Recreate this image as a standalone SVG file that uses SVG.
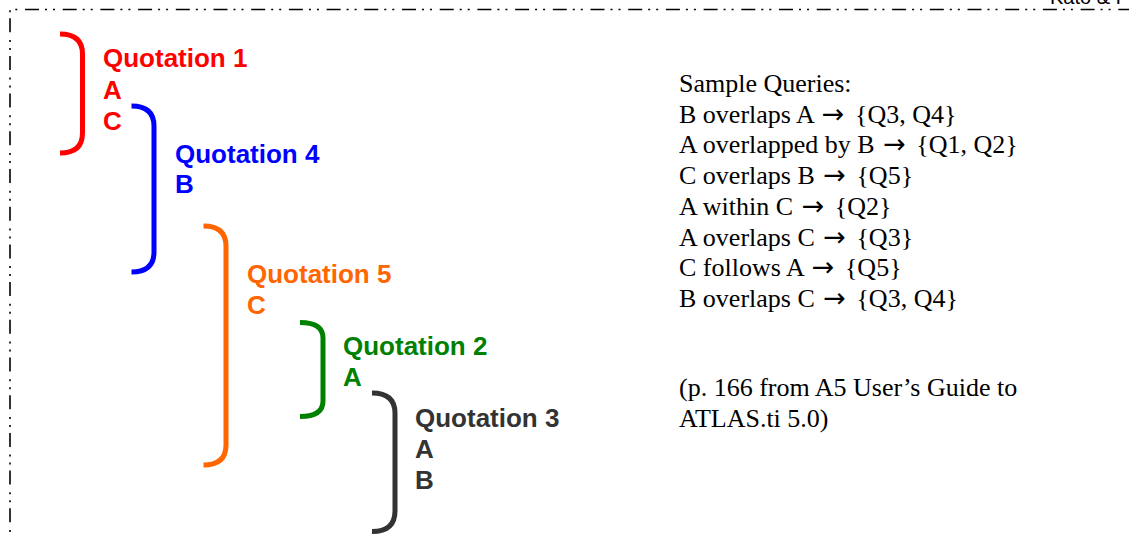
<svg xmlns="http://www.w3.org/2000/svg" width="1129" height="537" viewBox="0 0 1129 537">
  <style>
    .frame { fill: none; stroke: #000; stroke-width: 1.6; stroke-dasharray: 14 6 2 6 2 7.7; }
    .brace { fill: none; stroke-width: 5; stroke-linecap: butt; }
    .qlabel { font-family: "Liberation Sans", Arial, sans-serif; font-weight: bold; font-size: 26px; }
    .notes { font-family: "Liberation Serif", "Times New Roman", serif; font-size: 26px; fill: #000; }
    .arr { font-family: "DejaVu Sans", sans-serif; font-size: 27px; }
    .corner { font-family: "Liberation Sans", Arial, sans-serif; font-size: 20px; fill: #000; }
  </style>

  <rect width="1129" height="537" fill="#fff"/>

  <!-- dash-dot-dot page frame -->
  <path class="frame" d="M10,560 V9.5 H1140"/>
  <text class="corner" x="1050" y="4">Kato &amp; I</text>

  <!-- quotation brackets -->
  <g id="connectors">
    <path class="brace" stroke="#FF0000" d="M60,34 Q82.5,34 82.5,54 V133 Q82.5,153 60,153"/>
    <path class="brace" stroke="#0000FF" d="M131.5,106 Q154,106 154,126 V252 Q154,272 131.5,272"/>
    <path class="brace" stroke="#FF6600" d="M203.5,226 Q226,226 226,246 V445 Q226,465 203.5,465"/>
    <path class="brace" stroke="#008000" d="M300,322.5 Q323,322.5 323,338 V401 Q323,416.5 300,416.5"/>
    <path class="brace" stroke="#333333" d="M372,393 Q395,393 395,413 V511 Q395,531.5 372,531.5"/>
  </g>

  <g id="quotation-1" class="qlabel" fill="#FF0000">
    <text x="103" y="67">Quotation 1</text>
    <text x="103" y="99">A</text>
    <text x="103" y="130">C</text>
  </g>
  <g id="quotation-4" class="qlabel" fill="#0000FF">
    <text x="175" y="163">Quotation 4</text>
    <text x="175" y="193">B</text>
  </g>
  <g id="quotation-5" class="qlabel" fill="#FF6600">
    <text x="247" y="283">Quotation 5</text>
    <text x="247" y="314">C</text>
  </g>
  <g id="quotation-2" class="qlabel" fill="#008000">
    <text x="343" y="355">Quotation 2</text>
    <text x="343" y="386">A</text>
  </g>
  <g id="quotation-3" class="qlabel" fill="#333333">
    <text x="415" y="427">Quotation 3</text>
    <text x="415" y="458">A</text>
    <text x="415" y="489">B</text>
  </g>

  <g id="sample-queries" class="notes">
    <text x="679" y="92">Sample Queries:</text>
    <text x="679" y="122.7">B overlaps A <tspan class="arr" dx="2">→</tspan><tspan dx="4"> {Q3, Q4}</tspan></text>
    <text x="679" y="153.4">A overlapped by B <tspan class="arr" dx="2">→</tspan><tspan dx="4"> {Q1, Q2}</tspan></text>
    <text x="679" y="184.1">C overlaps B <tspan class="arr" dx="2">→</tspan><tspan dx="4"> {Q5}</tspan></text>
    <text x="679" y="214.8">A within C <tspan class="arr" dx="2">→</tspan><tspan dx="4"> {Q2}</tspan></text>
    <text x="679" y="245.5">A overlaps C <tspan class="arr" dx="2">→</tspan><tspan dx="4"> {Q3}</tspan></text>
    <text x="679" y="276.2">C follows A <tspan class="arr" dx="2">→</tspan><tspan dx="4"> {Q5}</tspan></text>
    <text x="679" y="306.9">B overlaps C <tspan class="arr" dx="2">→</tspan><tspan dx="4"> {Q3, Q4}</tspan></text>
  </g>

  <g id="source-note" class="notes">
    <text x="679" y="396">(p. 166 from A5 User’s Guide to</text>
    <text x="679" y="427">ATLAS.ti 5.0)</text>
  </g>
</svg>
